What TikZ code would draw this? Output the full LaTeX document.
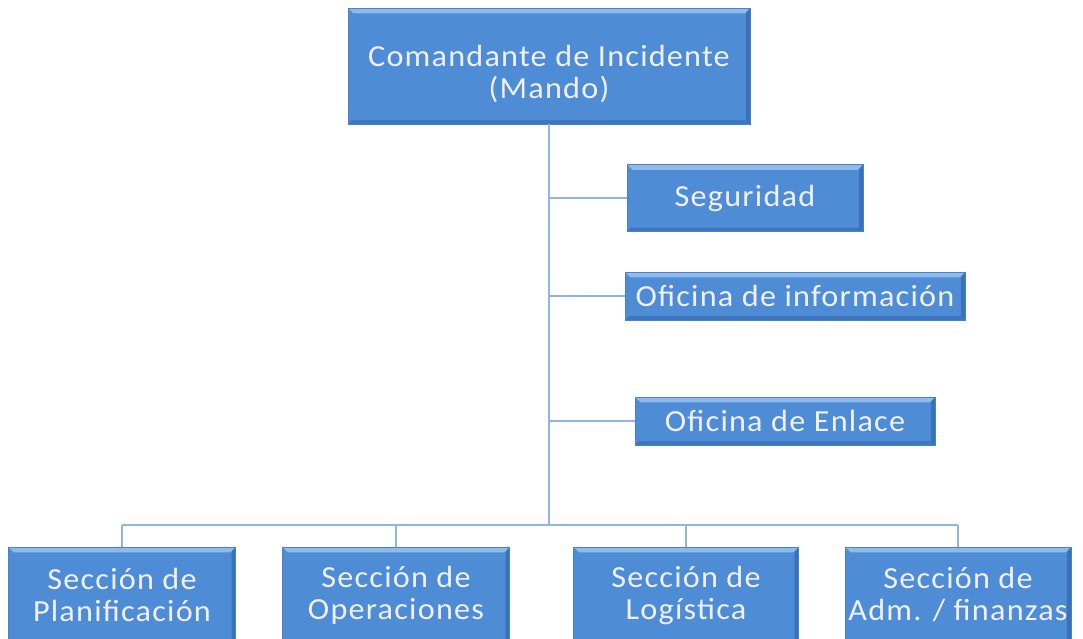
\documentclass[tikz,border=0pt]{standalone}
\usepackage{fontspec}
\setmainfont{Carlito}[FakeStretch=1.05, LetterSpace=4]
\usepackage{tikz}
\usetikzlibrary{positioning}

\definecolor{boxfill}{HTML}{4E8CD6}
\definecolor{boxlight}{HTML}{8EBAEC}
\definecolor{boxdark}{HTML}{3A72BA}
\definecolor{boxedge}{HTML}{4A82C6}
\definecolor{linkblue}{HTML}{8FB5E2}

\tikzset{
  unit/.style={draw=boxedge, line width=0.5pt, fill=boxfill, text=white!94!blue,
    align=center, inner sep=0pt, font=\fontsize{23}{24}\selectfont,
    path picture={
      \fill[boxlight] (path picture bounding box.north west) -- (path picture bounding box.north east)
        -- ([xshift=-4pt,yshift=-4pt]path picture bounding box.north east)
        -- ([xshift=4pt,yshift=-4pt]path picture bounding box.north west) -- cycle;
      \fill[boxdark] (path picture bounding box.north east) -- (path picture bounding box.south east)
        -- ([xshift=-3pt,yshift=3pt]path picture bounding box.south east)
        -- ([xshift=-3pt,yshift=-4pt]path picture bounding box.north east) -- cycle;
      \fill[boxdark!80!boxfill] (path picture bounding box.south west) -- (path picture bounding box.south east)
        -- ([xshift=-3pt,yshift=3pt]path picture bounding box.south east)
        -- ([xshift=3pt,yshift=3pt]path picture bounding box.south west) -- cycle;
    }},
  caption/.style={text=white!94!blue, align=center, font=\fontsize{23}{24}\selectfont},
  link/.style={draw=linkblue, line width=1.5pt}
}

\begin{document}
\begin{tikzpicture}[x=0.75pt, y=-0.75pt]
  \useasboundingbox (0,0) rectangle (1083,639);
  \clip (0,0) rectangle (1083,639);
  % top of the chart
  \node (mando) [unit, minimum width=402*0.75pt, minimum height=116*0.75pt,
    label={[caption, yshift=-6pt]center:Comandante de Incidente\\(Mando)}] at (549,66) {};
  % staff
  \node (seguridad) [unit, minimum width=236*0.75pt, minimum height=67*0.75pt] at (745,198) {Seguridad};
  \node (info) [unit, minimum width=340*0.75pt, minimum height=48*0.75pt] at (795,296) {Oficina de información};
  \node (enlace) [unit, minimum width=300*0.75pt, minimum height=48*0.75pt] at (785,421) {Oficina de Enlace};
  % sections
  \node (planif) [unit, minimum width=227*0.75pt, minimum height=96*0.75pt] at (122,595) {Sección de\\Planificación};
  \node (oper) [unit, minimum width=227*0.75pt, minimum height=96*0.75pt] at (396,595) {Sección de\\Operaciones};
  \node (logis) [unit, minimum width=225*0.75pt, minimum height=96*0.75pt] at (686,595) {Sección de\\Logística};
  \node (admin) [unit, minimum width=226*0.75pt, minimum height=96*0.75pt] at (958,595) {Sección de\\Adm. / finanzas};
  \coordinate (bus) at (549,525);

  \draw[link] (mando.south) -- (bus);
  \foreach \s in {seguridad, info, enlace}
    \draw[link] (mando.south |- \s.west) -- (\s.west);
  \draw[link] (planif.north |- bus) -- (admin.north |- bus);
  \foreach \s in {planif, oper, logis, admin}
    \draw[link] (\s.north |- bus) -- (\s.north);
\end{tikzpicture}
\end{document}
